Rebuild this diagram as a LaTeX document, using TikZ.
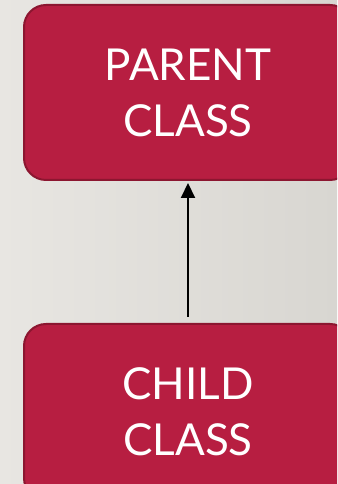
\documentclass[tikz,border=0pt]{standalone}
\usepackage{fontspec}
\setmainfont{Lato}
\usetikzlibrary{arrows.meta}
\definecolor{cls_red}{RGB}{183,30,65}
\definecolor{cls_edge}{RGB}{140,22,48}
\definecolor{bg_light}{RGB}{232,230,226}
\definecolor{bg_dark}{RGB}{216,214,209}

\begin{document}
\begin{tikzpicture}[x=1pt,y=1pt,
    classbox/.style={draw=cls_edge, line width=2pt, fill=cls_red, rounded corners=22pt,
      minimum width=328pt, minimum height=175pt, text=white, align=center,
      font=\fontsize{44}{56}\selectfont}]
    % slide background, 337 x 484
    \useasboundingbox (0,0) rectangle (337,484);
    \clip (0,0) rectangle (337,484);
    \shade[left color=bg_light, right color=bg_dark] (0,0) rectangle (337,484);

    % the two classes
    \node[classbox] (parent) at (188,391.5) {PARENT\\CLASS};
    \node[classbox, minimum height=176pt] (child) at (188,72) {CHILD\\CLASS};

    % inheritance arrow
    \draw[-{Triangle[width=14pt,length=15pt]}, line width=2pt, shorten <=6pt, shorten >=2pt]
      (child) -- (parent);
\end{tikzpicture}
\end{document}
